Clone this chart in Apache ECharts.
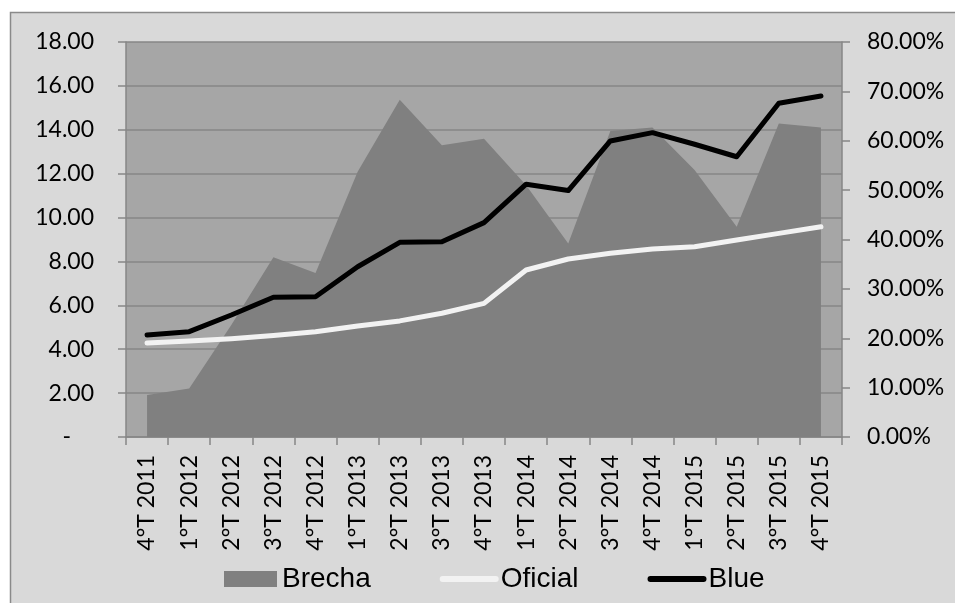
<!DOCTYPE html>
<html>
<head>
<meta charset="utf-8">
<script src="https://cdn.jsdelivr.net/npm/echarts@6/dist/echarts.min.js"></script>
<style>
  html, body { margin: 0; padding: 0; background: #ffffff; }
  #chart { width: 955px; height: 603px; }
</style>
</head>
<body>
<div id="chart"></div>
<script>
// Quarters on the category axis
const categories = [
  '4°T 2011', '1°T 2012', '2°T 2012', '3°T 2012', '4°T 2012',
  '1°T 2013', '2°T 2013', '3°T 2013', '4°T 2013',
  '1°T 2014', '2°T 2014', '3°T 2014', '4°T 2014',
  '1°T 2015', '2°T 2015', '3°T 2015', '4°T 2015'
];

// Gap between the two exchange rates, in percent (right axis)
const brecha = [8.5, 9.8, 22.7, 36.4, 33.2, 53.7, 68.3, 59.1, 60.4, 51.0, 39.2, 62.0, 62.7, 54.1, 42.6, 63.5, 62.7];

// Official exchange rate (left axis)
const oficial = [4.28, 4.37, 4.48, 4.62, 4.80, 5.06, 5.29, 5.64, 6.09, 7.61, 8.11, 8.37, 8.57, 8.67, 8.98, 9.28, 9.58];

// Parallel ("blue") exchange rate (left axis)
const blue = [4.65, 4.80, 5.56, 6.37, 6.39, 7.76, 8.87, 8.90, 9.77, 11.52, 11.23, 13.49, 13.87, 13.34, 12.77, 15.21, 15.54];

// Axis ranges
const leftAxisRange = { min: 0, max: 18, step: 2 };
const rightAxisRange = { min: 0, max: 80, step: 10 };

const AXIS_GRAY = '#868686';
const LABEL_FONT = 'Lato';

const chart = echarts.init(document.getElementById('chart'), null, { renderer: 'canvas' });

// Legend entries for the lines: a plain stroke, no marker in the middle
const lineLegendItem = (name, color) => ({
  name,
  itemStyle: { opacity: 0 },
  lineStyle: { color, width: 6, cap: 'round', opacity: 1 }
});

chart.setOption({
  animation: false,
  backgroundColor: '#ffffff',
  graphic: [{
    type: 'rect',
    z: -1,
    silent: true,
    shape: { x: 10.5, y: 12.5, width: 960, height: 610 },
    style: { fill: '#d9d9d9', stroke: '#8a8a8a', lineWidth: 1.5 }
  }],
  grid: {
    left: 126, right: 113, top: 42, bottom: 166,
    show: true, backgroundColor: '#a6a6a6', borderWidth: 0
  },
  legend: {
    left: 219, top: 560,
    itemWidth: 53, itemHeight: 16, itemGap: 69,
    textStyle: { fontFamily: 'Liberation Sans', fontSize: 28, color: '#000' },
    data: [
      { name: 'Brecha', icon: 'rect' },
      lineLegendItem('Oficial', '#f2f2f2'),
      lineLegendItem('Blue', '#000000')
    ]
  },
  xAxis: {
    type: 'category',
    data: categories,
    boundaryGap: true,
    axisLine: { show: true, lineStyle: { color: AXIS_GRAY, width: 1.5 } },
    axisTick: { show: true, interval: 0, length: 8, lineStyle: { color: AXIS_GRAY, width: 1.5 } },
    axisLabel: {
      interval: 0, rotate: 90, margin: 18,
      fontFamily: LABEL_FONT, fontSize: 23, color: '#000'
    },
    splitLine: { show: false }
  },
  yAxis: [
    {
      type: 'value',
      position: 'left',
      min: leftAxisRange.min, max: leftAxisRange.max, interval: leftAxisRange.step,
      axisLine: { show: true, lineStyle: { color: AXIS_GRAY, width: 1.5 } },
      axisTick: { show: true, length: 8, lineStyle: { color: AXIS_GRAY, width: 1.5 } },
      axisLabel: {
        margin: 32, fontFamily: LABEL_FONT, fontSize: 23, color: '#000',
        formatter: v => (v === 0 ? '-\u2002\u2002' : v.toFixed(2))
      },
      splitLine: { show: true, lineStyle: { color: AXIS_GRAY, width: 1.5 } }
    },
    {
      type: 'value',
      position: 'right',
      min: rightAxisRange.min, max: rightAxisRange.max, interval: rightAxisRange.step,
      axisLine: { show: true, lineStyle: { color: AXIS_GRAY, width: 1.5 } },
      axisTick: { show: true, length: 8, lineStyle: { color: AXIS_GRAY, width: 1.5 } },
      axisLabel: {
        margin: 25, fontFamily: LABEL_FONT, fontSize: 23, color: '#000',
        formatter: v => v.toFixed(2) + '%'
      },
      splitLine: { show: false }
    }
  ],
  series: [
    {
      name: 'Brecha',
      type: 'line',
      yAxisIndex: 1,
      data: brecha,
      symbol: 'none',
      lineStyle: { width: 0, color: '#808080' },
      itemStyle: { color: '#808080' },
      areaStyle: { color: '#808080', opacity: 1 }
    },
    {
      name: 'Oficial',
      type: 'line',
      yAxisIndex: 0,
      data: oficial,
      symbol: 'none',
      lineStyle: { color: '#f2f2f2', width: 5, cap: 'round', join: 'round' },
      itemStyle: { color: '#f2f2f2' }
    },
    {
      name: 'Blue',
      type: 'line',
      yAxisIndex: 0,
      data: blue,
      symbol: 'none',
      lineStyle: { color: '#000000', width: 5, cap: 'round', join: 'round' },
      itemStyle: { color: '#000000' }
    }
  ]
});
</script>
</body>
</html>
